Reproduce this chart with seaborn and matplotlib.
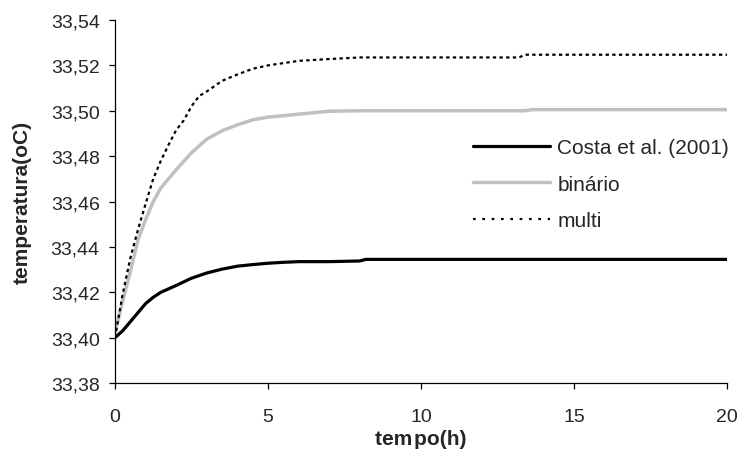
import matplotlib
matplotlib.use("Agg")
import matplotlib.pyplot as plt
from matplotlib.ticker import FuncFormatter, MultipleLocator
import seaborn as sns

# Time (h) and temperature (°C) for each model
t_costa = [0, 0.25, 0.5, 0.75, 1.0, 1.25, 1.5, 1.75, 2.0, 2.5, 3.0, 3.5, 4.0, 4.5,
           5.0, 5.5, 6.0, 7.0, 8.0, 8.2, 12.0, 16.0, 20.0]
temp_costa = [33.400, 33.403, 33.407, 33.411, 33.415, 33.4178, 33.4200, 33.4215,
              33.4230, 33.4262, 33.4285, 33.4302, 33.4315, 33.4322, 33.4328,
              33.4332, 33.4335, 33.4335, 33.4338, 33.4345, 33.4345, 33.4345, 33.4345]

t_bin = [0, 0.25, 0.5, 0.75, 1.0, 1.25, 1.5, 1.75, 2.0, 2.5, 3.0, 3.5, 4.0, 4.5,
         5.0, 5.5, 6.0, 7.0, 8.0, 13.4, 13.6, 20.0]
temp_bin = [33.402, 33.416, 33.429, 33.443, 33.452, 33.460, 33.466, 33.470,
            33.474, 33.4815, 33.4875, 33.4912, 33.4938, 33.4960, 33.4972,
            33.4978, 33.4985, 33.4998, 33.5000, 33.5000, 33.5005, 33.5005]

t_multi = [0, 0.25, 0.5, 0.75, 1.0, 1.25, 1.5, 1.75, 2.0, 2.25, 2.5, 2.75, 3.0,
           3.5, 4.0, 4.5, 5.0, 5.5, 6.0, 7.0, 8.0, 13.2, 13.4, 20.0]
temp_multi = [33.400, 33.419, 33.435, 33.4475, 33.459, 33.470, 33.478, 33.485,
              33.4915, 33.4958, 33.502, 33.5065, 33.5085, 33.5132, 33.5160,
              33.5185, 33.5200, 33.5210, 33.5220, 33.5228, 33.5235, 33.5235,
              33.5247, 33.5247]

x_ticks = [0, 5, 10, 15, 20]

sns.set_style("white")
plt.rcParams["font.family"] = ["Liberation Sans", "DejaVu Sans"]

fig = plt.figure(figsize=(7.39, 4.52), dpi=100)
ax = fig.add_axes([0.1556, 0.1504, 0.8282, 0.8031])

sns.lineplot(x=t_costa, y=temp_costa, ax=ax, color="black", linewidth=2.3,
             label="Costa et al. (2001)", sort=False, estimator=None)
sns.lineplot(x=t_bin, y=temp_bin, ax=ax, color="#c0c0c0", linewidth=2.5,
             label="binário", sort=False, estimator=None)
sns.lineplot(x=t_multi, y=temp_multi, ax=ax, color="black", linewidth=1.6,
             label="multi", sort=False, estimator=None)
ax.lines[2].set_dashes((1.5, 1.5))

ax.set_xlim(0, 20)
ax.set_ylim(33.38, 33.54)
ax.set_xticks(x_ticks)
ax.yaxis.set_major_locator(MultipleLocator(0.02))
ax.yaxis.set_major_formatter(FuncFormatter(lambda v, p: f"{v:.2f}".replace(".", ",")))

for s in ["top", "right"]:
    ax.spines[s].set_visible(False)
for s in ["left", "bottom"]:
    ax.spines[s].set_color("black")
    ax.spines[s].set_linewidth(0.9)

ax.tick_params(axis="both", which="major", direction="out", length=4, width=0.9,
               color="black", labelsize=14, pad=7, bottom=True, left=True)
ax.tick_params(axis="x", pad=14)

ax.set_xlabel("tem\u200apo(h)", fontsize=15, fontweight="bold", labelpad=3)
ax.set_ylabel("temperatura(oC)", fontsize=15, fontweight="bold")
ax.yaxis.set_label_coords(-0.136, 0.5)

leg = ax.legend(loc="center left", bbox_to_anchor=(0.585, 0.548), frameon=False,
                fontsize=15, handlelength=3.7, handletextpad=0.35, labelspacing=0.85,
                borderpad=0, borderaxespad=0)
leg.get_lines()[2].set_dashes((1.2, 3.0))

fig.savefig("out.png", dpi=100)
